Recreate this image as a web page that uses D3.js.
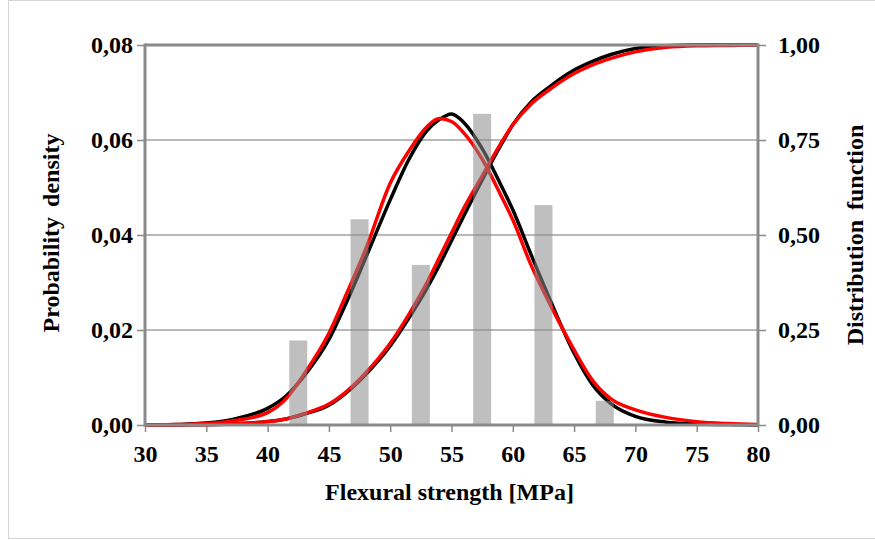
<!DOCTYPE html>
<html>
<head>
<meta charset="utf-8">
<script src="https://cdn.jsdelivr.net/npm/d3@7"></script>
<style>
  body { margin: 0; background: #fff; }
  svg text { font-family: "Liberation Serif", "Times New Roman", serif; font-weight: bold; fill: #000; }
</style>
</head>
<body>
<svg id="chart" width="875" height="540"></svg>
<script>
const strength = [30, 32.5, 35, 37.5, 40, 41.5, 43, 45, 46.5, 48, 50, 51.5, 53, 54, 55, 56, 57.5, 59, 60, 61.5, 63, 65, 66.5, 68, 70, 72.5, 75, 77.5, 80];

// probability density (left axis)
const pdfBlack = [0, 0.0001, 0.0004, 0.0014, 0.0035, 0.0061, 0.0104, 0.0180, 0.0262, 0.0352, 0.0474, 0.0558, 0.0620, 0.0643, 0.0655, 0.0637, 0.0582, 0.0507, 0.0453, 0.0358, 0.0266, 0.0151, 0.0085, 0.0045, 0.0018, 0.0006, 0.0002, 0.0001, 0];
const pdfRed   = [0, 0.0001, 0.0003, 0.0010, 0.0026, 0.0055, 0.0108, 0.0193, 0.0280, 0.0370, 0.0509, 0.0576, 0.0628, 0.0645, 0.0639, 0.0615, 0.0560, 0.0485, 0.0432, 0.0336, 0.0256, 0.0158, 0.0094, 0.0055, 0.0032, 0.0016, 0.0007, 0.0003, 0.0001];

// distribution function (right axis)
const cdfBlack = [0, 0.0003, 0.001, 0.003, 0.009, 0.016, 0.029, 0.052, 0.087, 0.133, 0.208, 0.28, 0.36, 0.42, 0.485, 0.55, 0.645, 0.735, 0.79, 0.85, 0.89, 0.934, 0.957, 0.975, 0.991, 0.998, 1, 1, 1];
const cdfRed   = [0, 0.0002, 0.0008, 0.003, 0.009, 0.016, 0.03, 0.055, 0.09, 0.137, 0.215, 0.29, 0.375, 0.44, 0.505, 0.57, 0.655, 0.74, 0.79, 0.845, 0.883, 0.925, 0.948, 0.965, 0.982, 0.994, 0.998, 0.999, 1];

// histogram
const binCenters = [42.5, 47.5, 52.5, 57.5, 62.5, 67.5];
const binDensity = [0.0178, 0.0433, 0.0337, 0.0655, 0.0463, 0.0051];

const xTicks = [30, 35, 40, 45, 50, 55, 60, 65, 70, 75, 80];
const leftTicks = [0, 0.02, 0.04, 0.06, 0.08];
const rightTicks = [0, 0.25, 0.5, 0.75, 1];

const svg = d3.select("#chart");
const margin = { left: 145, right: 117, top: 45, bottom: 115 };
const W = 875, H = 540;
const x0 = margin.left, x1 = W - margin.right, yTop = margin.top, yBot = H - margin.bottom;

const xScale = d3.scaleLinear().domain([30, 80]).range([x0, x1]);
const yLeft = d3.scaleLinear().domain([0, 0.08]).range([yBot, yTop]);
const yRight = d3.scaleLinear().domain([0, 1]).range([yBot, yTop]);
const comma = d => d3.format(".2f")(d).replace(".", ",");

// outer frame
svg.append("rect")
    .attr("x", 8.5).attr("y", 0.5)
    .attr("width", 880).attr("height", 538)
    .attr("fill", "none").attr("stroke", "#d4d4d4").attr("stroke-width", 1);

// gridlines
svg.append("g").selectAll("line")
    .data(leftTicks.slice(1, -1))
    .join("line")
    .attr("x1", x0).attr("x2", x1)
    .attr("y1", d => yLeft(d)).attr("y2", d => yLeft(d))
    .attr("stroke", "#a0a0a0").attr("stroke-width", 1.5);

// left axis
const gl = svg.append("g").attr("transform", `translate(${x0},0)`)
    .call(d3.axisLeft(yLeft).tickValues(leftTicks).tickFormat(comma).tickSize(8).tickPadding(4));
// right axis
const gr = svg.append("g").attr("transform", `translate(${x1},0)`)
    .call(d3.axisRight(yRight).tickValues(rightTicks).tickFormat(comma).tickSize(8).tickPadding(12));
// bottom axis
const gb = svg.append("g").attr("transform", `translate(0,${yBot})`)
    .call(d3.axisBottom(xScale).tickValues(xTicks).tickFormat(d3.format("d")).tickSize(7).tickPadding(8));

[gl, gr, gb].forEach(g => {
    g.select(".domain").remove();
    g.selectAll(".tick line").attr("stroke", "#8a8a8a").attr("stroke-width", 1.5);
    g.selectAll(".tick text").style("font-size", "24px");
});
gb.selectAll(".tick text").attr("dy", "0.9em");

// curves
const line = (ys, yS) => d3.line()
    .x((d, i) => xScale(strength[i]))
    .y(d => yS(d))
    .curve(d3.curveMonotoneX)(ys);

const curves = [
    { ys: pdfBlack, yS: yLeft, color: "#000" },
    { ys: cdfBlack, yS: yRight, color: "#000" },
    { ys: pdfRed, yS: yLeft, color: "#ff0000" },
    { ys: cdfRed, yS: yRight, color: "#ff0000" }
];
svg.append("g").selectAll("path")
    .data(curves)
    .join("path")
    .attr("d", d => line(d.ys, d.yS))
    .attr("fill", "none")
    .attr("stroke", d => d.color)
    .attr("stroke-width", 3.5)
    .attr("stroke-linejoin", "round");

// histogram bars (semi transparent, drawn over the curves)
const barW = 18;
svg.append("g").selectAll("rect")
    .data(binCenters)
    .join("rect")
    .attr("x", (d) => xScale(d) - barW / 2)
    .attr("y", (d, i) => yLeft(binDensity[i]))
    .attr("width", barW)
    .attr("height", (d, i) => yBot - yLeft(binDensity[i]))
    .attr("fill", "#8b8b8b")
    .attr("fill-opacity", 0.55);

// plot border lines
svg.append("line").attr("x1", x0).attr("x2", x1).attr("y1", yTop).attr("y2", yTop)
    .attr("stroke", "#8a8a8a").attr("stroke-width", 3);
svg.append("line").attr("x1", x0).attr("x2", x0).attr("y1", yTop - 1.5).attr("y2", yBot + 1.5)
    .attr("stroke", "#8a8a8a").attr("stroke-width", 3);
svg.append("line").attr("x1", x1).attr("x2", x1).attr("y1", yTop - 1.5).attr("y2", yBot + 1.5)
    .attr("stroke", "#8a8a8a").attr("stroke-width", 3);
svg.append("line").attr("x1", x0).attr("x2", x1).attr("y1", yBot).attr("y2", yBot)
    .attr("stroke", "#8a8a8a").attr("stroke-width", 3);

// axis titles
svg.append("text")
    .attr("x", (x0 + x1) / 2 - 2).attr("y", 500)
    .attr("text-anchor", "middle")
    .style("font-size", "24px")
    .text("Flexural strength [MPa]");

svg.append("text")
    .attr("transform", "translate(59,233) rotate(-90)")
    .attr("text-anchor", "middle")
    .style("font-size", "24px")
    .style("word-spacing", "4px")
    .text("Probability density");

svg.append("text")
    .attr("transform", "translate(863,235) rotate(-90)")
    .attr("text-anchor", "middle")
    .style("font-size", "24px")
    .style("word-spacing", "4px")
    .text("Distribution function");
</script>
</body>
</html>
